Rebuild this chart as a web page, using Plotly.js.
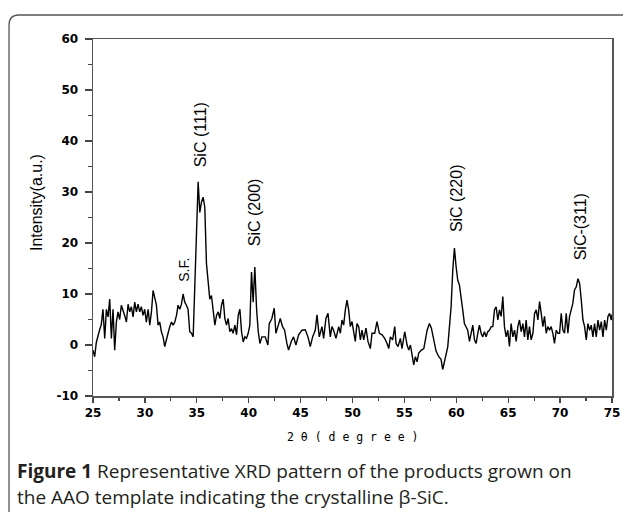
<!DOCTYPE html>
<html>
<head>
<meta charset="utf-8">
<script src="https://cdn.plot.ly/plotly-3.0.1.min.js"></script>
<style>
  html, body { margin: 0; padding: 0; background: #ffffff; }
  #chart { width: 623px; height: 521px; }
</style>
</head>
<body>
<div id="chart"></div>
<script>
// ---- Data ----
const twoTheta1 = [25.00,25.16,25.32,25.48,25.64,25.80,25.96,26.13,26.29,26.45,26.61,26.77,26.93,27.09,27.25,27.41,27.57,27.73,27.89,28.05,28.22,28.38,28.54,28.70,28.86,29.02,29.18,29.34,29.50,29.66,29.82,29.98,30.14,30.31,30.47,30.63,30.79,30.95,31.11,31.27,31.43,31.59,31.75,31.91,32.07,32.23,32.40,32.56,32.72,32.88,33.04,33.20,33.36,33.52,33.68,33.84,34.00,34.16,34.32,34.49,34.65,34.81,34.97,35.13,35.29,35.45,35.61,35.77,35.93,36.09,36.25,36.41,36.58,36.74,36.90,37.06,37.22,37.38,37.54,37.70,37.86,38.02,38.18,38.34,38.50,38.67,38.83,38.99,39.15,39.31,39.47,39.63,39.79,39.95,40.11,40.27,40.43,40.59,40.76,40.92,41.08];
const intensity1 = [-1,-2.3,0.5,2,3,4,7,1.3,7,5.5,9,1.3,7,-1,4.5,6.5,5,7.8,6.5,5.8,4.5,8,6.5,7.5,5.5,8.4,6.5,8,6.5,7.5,5.8,7,4.5,7,3.9,6.5,10.7,9.5,7.8,3.9,4.5,2.6,1.6,-0.3,1.3,2.3,3.6,4.5,3.9,4.5,5.8,7.8,7,8,10,8.4,7.8,7,2.6,2.3,1.6,11.7,18.5,32,26,28,29,27,16,11.7,9,9.7,7,3.9,5.8,6.5,5.2,7.8,9,5.2,3.9,5.2,2.6,3.2,2.3,3.9,2,5.8,7,2.6,0.6,1.6,1.3,2.3,3.9,14.3,8.4,15.3,7,2.6,0.3];

const twoTheta2 = [41.27,41.59,41.85,41.98,42.23,42.46,42.62,42.81,43.04,43.26,43.46,43.68,43.84,44.10,44.32,44.55,44.81,45.13,45.45,45.71,45.93,46.16,46.41,46.58,46.80,47.06,47.22,47.44,47.64,47.86,48.02,48.18,48.41,48.67,48.83,48.99,49.15,49.31,49.47,49.63,49.79,49.95,50.11,50.27,50.43,50.60,50.76,50.92,51.08,51.30,51.49,51.72,51.88,52.14,52.36,52.59,52.85,53.10,53.33,53.49,53.65,53.87,54.07,54.20,54.39,54.61,54.77,55.03,55.26,55.42,55.58,55.74,55.90,56.06,56.22,56.38,56.64,56.87,57.03,57.19,57.41,57.60,57.83];
const intensity2 = [1.6,1.6,0,4.2,5.2,7.2,2.3,3.6,5.2,3.6,2.9,0.3,-1,0.7,1.6,0,2,2.9,3,1.6,-0.3,1.6,2.9,5.9,1.6,3.6,1.3,5.2,6.2,1.6,3.6,2.9,1.3,3.6,2.3,4.9,3.9,6.9,8.8,6.9,3.6,4.6,2.9,0.7,4.2,3.6,1,2.9,1,3.3,0.7,-0.7,2.3,2.3,4.6,2.3,2,1.3,0.3,-0.7,1.6,1,3.6,0.3,-0.3,1.3,-0.7,2.6,0,-1,0,-2.3,-3.9,-2.3,-3.3,-1.6,-1,-0.7,1.6,2.9,4.2,3.3,1];

const twoTheta3 = [58.05,58.31,58.53,58.69,58.95,59.18,59.34,59.50,59.66,59.82,59.98,60.14,60.30,60.46,60.62,60.78,60.94,61.10,61.27,61.43,61.59,61.75,61.91,62.07,62.23,62.39,62.55,62.71,62.87,63.03,63.19,63.36,63.52,63.68,63.84,64.00,64.16,64.32,64.48,64.64,64.80,64.96,65.12,65.28,65.45,65.61,65.77,65.93,66.09,66.25,66.41,66.57,66.73,66.89,67.05,67.21,67.38,67.54,67.70,67.86,68.02,68.18,68.34,68.50,68.66,68.82,68.98,69.14,69.30,69.46,69.63,69.79,69.95,70.11,70.27,70.43,70.59,70.75,70.91,71.07,71.23,71.39,71.56,71.72,71.88,72.04,72.20,72.36,72.52,72.68,72.84,73.00,73.16,73.32,73.48,73.65,73.81,73.97,74.13,74.29,74.45,74.61,74.77,74.93,75.00];
const intensity3 = [-1.2,-2.3,-2.8,-4.8,-2.6,-0.3,3.6,7.5,14.7,19,15.4,12.7,11.8,8.8,6.9,4.2,3.6,2.9,0.7,2.3,3.9,1,0.3,2.3,3.9,2.3,1.6,2.6,1.6,2.6,2.9,3.6,3.6,6.9,7.5,4.9,6.9,5.6,9.5,3.6,1.6,2.9,-0.3,4.2,1.6,2.9,0.7,3.6,4.9,2.6,4.2,1.6,4.9,1,3.6,1,2.3,6.2,6.9,4.9,8.5,6.2,3.6,5.6,2.3,3.6,2.9,3.6,2.3,0.3,2.9,2.3,2.3,6.2,2.9,2.3,6.2,2.3,5.6,6.9,8.2,10.8,11.4,13,12.1,8.8,4.9,3.6,1,4.2,2.9,3.9,1.6,4.2,1.6,4.9,2.9,4.6,1.6,4.9,2.9,5.6,6.2,4.9,6];

const peakLabels = ['S.F.', 'SiC (111)', 'SiC (200)', 'SiC (220)', 'SiC-(311)'];
const peakLabelX = [33.74, 35.35, 40.59, 59.97, 71.98];
const peakLabelY = [14.7, 41.2, 26.0, 28.8, 23.2];

const xTickVals = [25, 30, 35, 40, 45, 50, 55, 60, 65, 70, 75];
const xTickText = ['25', '30', '35', '40', '45', '50', '55', '60', '65', '70', '75'];
const yTickVals = [-10, 0, 10, 20, 30, 40, 50, 60];
const yTickText = ['-10', '0', '10', '20', '30', '40', '50', '60'];

const xTitle = '2 θ ( d e g r e e )';
const yTitle = 'Intensity(a.u.)';
const captionBold = 'Figure 1';
const captionLine1 = ' Representative XRD pattern of the products grown on';
const captionLine2 = 'the AAO template indicating the crystalline β-SiC.';

// ---- Build chart ----
const xs = twoTheta1.concat(twoTheta2, twoTheta3);
const ys = intensity1.concat(intensity2, intensity3);

const trace = {
  x: xs, y: ys, type: 'scatter', mode: 'lines',
  line: { color: '#000000', width: 1.4 },
  hoverinfo: 'skip', showlegend: false
};

const axisCommon = {
  showgrid: false, zeroline: false,
  showline: true, linecolor: '#555555', linewidth: 1.5, mirror: true,
  ticks: 'outside', tickcolor: '#444444', tickwidth: 1.2,
  tickfont: { family: 'DejaVu Sans', size: 12, color: '#000000', weight: 'bold' },
  tickmode: 'array'
};

const annotations = peakLabels.map((t, i) => ({
  x: peakLabelX[i], y: peakLabelY[i], xref: 'x', yref: 'y',
  text: t, showarrow: false, textangle: -90,
  xanchor: 'center', yanchor: 'middle',
  font: { family: 'Liberation Sans', size: i === 0 ? 14 : 16, color: '#000000' }
}));

annotations.push({
  x: 0.5, y: -0.115, xref: 'paper', yref: 'paper', text: xTitle, showarrow: false,
  xanchor: 'center', yanchor: 'middle',
  font: { family: 'DejaVu Sans Mono', size: 11.5, color: '#000000' }
});
annotations.push({
  x: -0.1098, y: 0.5406, xref: 'paper', yref: 'paper', text: yTitle, showarrow: false,
  textangle: -90, xanchor: 'center', yanchor: 'middle',
  font: { family: 'Liberation Sans', size: 16, color: '#000000' }
});
annotations.push({
  x: -0.150, y: -0.2101, xref: 'paper', yref: 'paper',
  text: '<b>' + captionBold + '</b>' + captionLine1, showarrow: false,
  xanchor: 'left', yanchor: 'middle', align: 'left',
  font: { family: 'Open Sans', size: 19, color: '#231f20' }
});
annotations.push({
  x: -0.150, y: -0.2829, xref: 'paper', yref: 'paper',
  text: captionLine2, showarrow: false,
  xanchor: 'left', yanchor: 'middle', align: 'left',
  font: { family: 'Open Sans', size: 19, color: '#231f20' }
});

const layout = {
  width: 623, height: 521,
  margin: { l: 93, r: 11, t: 39, b: 125, pad: 0 },
  paper_bgcolor: '#ffffff', plot_bgcolor: '#ffffff',
  showlegend: false,
  xaxis: Object.assign({}, axisCommon, {
    range: [25, 75], tickvals: xTickVals, ticktext: xTickText, ticklen: 5,
    minor: { tickvals: [27.5, 32.5, 37.5, 42.5, 47.5, 52.5, 57.5, 62.5, 67.5, 72.5], ticks: 'outside', ticklen: 3, tickcolor: '#444444', tickwidth: 1.2 }
  }),
  yaxis: Object.assign({}, axisCommon, {
    range: [-10, 60], tickvals: yTickVals, ticktext: yTickText, ticklen: 7,
    ticklabelstandoff: 4,
    minor: { tickvals: [-5, 5, 15, 25, 35, 45, 55], ticks: 'outside', ticklen: 4, tickcolor: '#444444', tickwidth: 1.2 }
  }),
  annotations: annotations,
  shapes: [{
    type: 'path', xref: 'paper', yref: 'paper',
    path: 'M -0.1618,-0.325 L -0.1618,1.0392 Q -0.1618,1.0672 -0.1426,1.0672 L 1.03,1.0672',
    line: { color: '#555555', width: 1.3 }, fillcolor: 'rgba(0,0,0,0)'
  }]
};

Plotly.newPlot('chart', [trace], layout, { staticPlot: true, displayModeBar: false });
</script>
</body>
</html>
